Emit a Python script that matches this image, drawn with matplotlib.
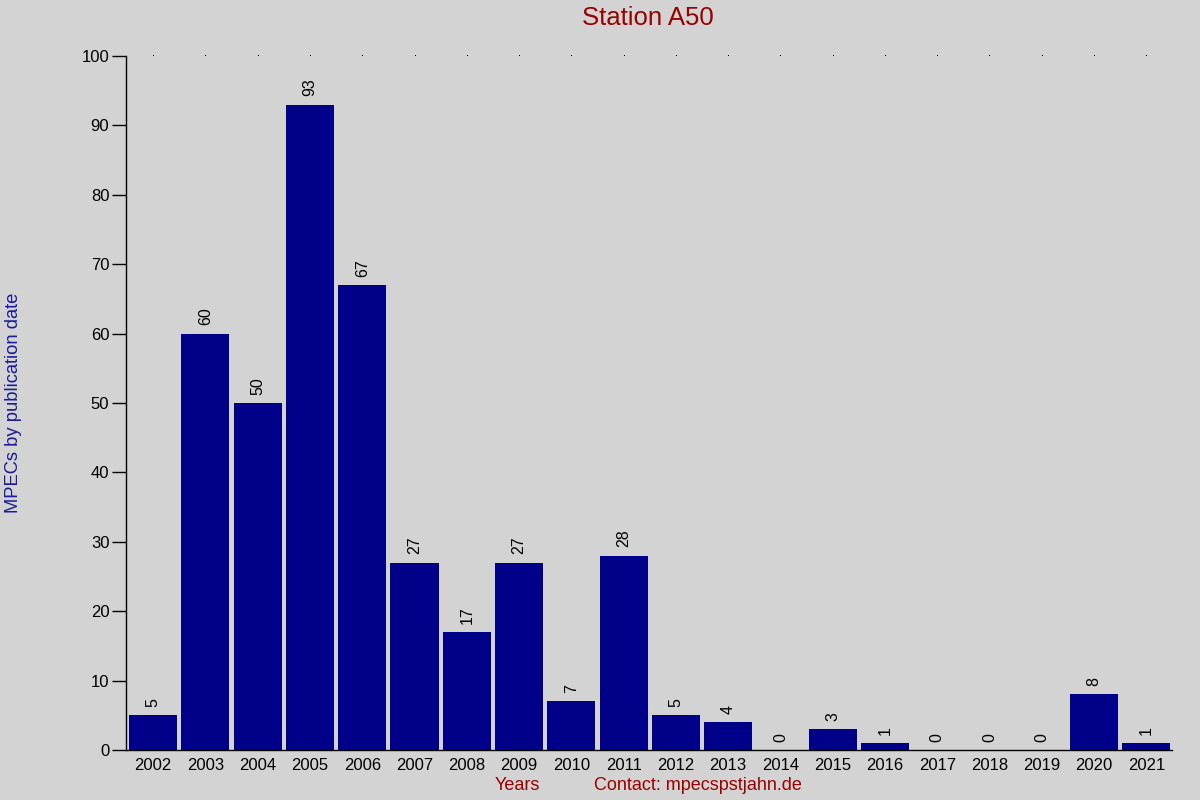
import matplotlib
matplotlib.use("Agg")
import matplotlib.pyplot as plt
import numpy as np

years = ["2002", "2003", "2004", "2005", "2006", "2007", "2008", "2009", "2010", "2011",
         "2012", "2013", "2014", "2015", "2016", "2017", "2018", "2019", "2020", "2021"]
counts = [5, 60, 50, 93, 67, 27, 17, 27, 7, 28, 5, 4, 0, 3, 1, 0, 0, 0, 8, 1]
yticks = list(range(0, 101, 10))

plt.rcParams['font.family'] = ['Liberation Sans', 'DejaVu Sans']
bg = '#d3d3d3'
fig = plt.figure(figsize=(12, 8), dpi=100, facecolor=bg)
ax = fig.add_axes([0.105, 0.0625, 0.872, 0.8675], facecolor=bg)

x = np.arange(len(years))
ax.bar(x, counts, width=0.92, color='#000088', zorder=2)
for xi, c in zip(x, counts):
    ax.text(xi, c + 1.2, str(c), rotation=90, ha='center', va='bottom', fontsize=11.5, color='black')

ax.plot(x, [100] * len(x), linestyle='none', marker=',', color='black', clip_on=False)

ax.set_xlim(-0.52, len(years) - 0.5)
ax.set_ylim(0, 100)
ax.set_yticks(yticks)
ax.set_yticklabels([str(t) for t in yticks], fontsize=12)
ax.set_xticks(x)
ax.set_xticklabels(years, fontsize=12)
ax.tick_params(axis='x', length=0, pad=6)
ax.tick_params(axis='y', length=10, width=1, direction='out', pad=2)
for s in ['top', 'right']:
    ax.spines[s].set_visible(False)
ax.spines['left'].set_linewidth(1)
ax.spines['bottom'].set_linewidth(1)

fig.text(0.54, 0.977, "Station A50", ha='center', va='center', fontsize=18.5, color='#990000')
fig.text(0.011, 0.496, "MPECs by publication date", rotation=90, ha='center', va='center',
         fontsize=13.2, color='#1a1a99')
fig.text(0.431, 0.018, "Years", ha='center', va='center', fontsize=13, color='#990000')
fig.text(0.582, 0.018, "Contact: mpecspstjahn.de", ha='center', va='center', fontsize=13, color='#990000')

fig.savefig("out.png", dpi=100, facecolor=bg)
